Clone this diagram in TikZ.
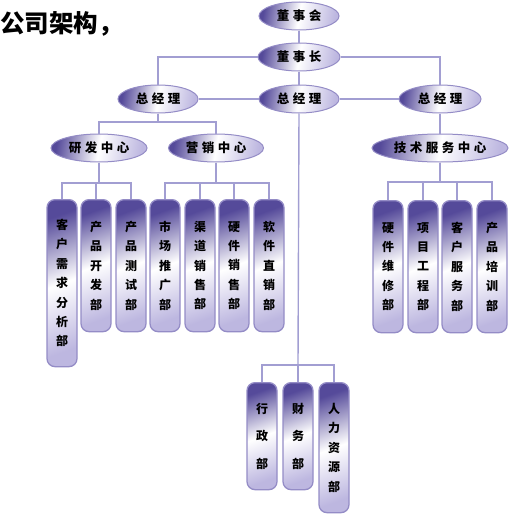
\documentclass[tikz,border=0pt]{standalone}
\usepackage{fontspec}
\usepackage{tikz}
\usepackage{xcolor}
\usetikzlibrary{shapes.geometric, positioning}
\newfontfamily\cjk{Noto Sans CJK SC}
\newfontfamily\cjkwide[LetterSpace=28]{Noto Sans CJK SC}
\definecolor{linelav}{HTML}{A29ED2}
\definecolor{edgelav}{HTML}{948CC6}
\definecolor{shadedark}{HTML}{554A9A}
\definecolor{shadelight}{HTML}{BDB7E0}
\tikzset{
  link/.style={draw=linelav, line width=1.4pt},
  boss/.style={ellipse, draw=edgelav, line width=1pt, inner sep=0pt,
               minimum height=28pt, left color=shadedark, right color=shadelight,
               middle color=white, shading angle=80,
               font=\cjkwide\bfseries\fontsize{12.5}{14}\selectfont},
  dept/.style={draw=edgelav, line width=1.3pt, rounded corners=8pt, anchor=north,
               minimum width=30pt, minimum height=132pt, inner sep=0pt,
               top color=shadedark, bottom color=shadelight, middle color=white,
               shading angle=20, align=center,
               font=\cjk\bfseries\fontsize{12}{19.4}\selectfont},
}

\begin{document}
\begin{tikzpicture}[x=1pt, y=-1pt]
  \useasboundingbox (0,0) rectangle (510,514);
  \node[anchor=west, font=\cjk\bfseries\fontsize{24.5}{27}\selectfont, inner sep=0pt]
       (title) at (0,24) {公司架构，};

  % top levels
  \node[boss, minimum width=80pt] (dsh) at (299,16) {董事会};
  \node[boss, minimum width=82pt] (dsz) at (299,57) {董事长};
  \node[boss, minimum width=80pt] (gmL) at (158,99) {总经理};
  \node[boss, minimum width=80pt] (gmM) at (299,99) {总经理};
  \node[boss, minimum width=82pt] (gmR) at (440,99) {总经理};

  % centres
  \node[boss, minimum width=96pt] (yf) at (99,148) {研发中心};
  \node[boss, minimum width=95pt] (yx) at (216,148) {营销中心};
  \node[boss, minimum width=136pt] (js) at (440,148) {技术服务中心};

  \coordinate (jL) at (158,122);
  \coordinate (yfbar) at (99,183);
  \coordinate (yxbar) at (216,183);
  \coordinate (jsbar) at (440,182);
  \coordinate (mbar) at (298,365);

  \draw[link] (dsh) -- (dsz);
  \draw[link] (dsz.west) -| (gmL.north);
  \draw[link] (dsz.east) -| (gmR.north);
  \draw[link] (dsz) -- (gmM);
  \draw[link] (gmL) -- (gmM);
  \draw[link] (gmM) -- (gmR);
  \draw[link] (gmL.south) -- (jL);
  \draw[link] (yf.north) |- (jL) -| (yx.north);
  \draw[link] (gmR.south) -- (js.north);
  \draw[link] (yf.south) -- (yfbar);
  \draw[link] (yx.south) -- (yxbar);
  \draw[link] (js.south) -- (jsbar);
  \draw[link] (gmM.south) -- (mbar);

  % departments
  \foreach \i/\x/\h/\t in {1/62/167/{客\\户\\需\\求\\分\\析\\部},
                           2/96/132/{产\\品\\开\\发\\部},
                           3/131/132/{产\\品\\测\\试\\部}}{
    \node[dept, minimum height=\h pt] (yf\i) at (\x,199) {\t};
    \draw[link] (yf\i.north) |- (yfbar);
  }
  \foreach \i/\x/\t in {1/165/{市\\场\\推\\广\\部},2/200/{渠\\道\\销\\售\\部},
                        3/234/{硬\\件\\销\\售\\部},4/269/{软\\件\\直\\销\\部}}{
    \node[dept] (yx\i) at (\x,199) {\t};
    \draw[link] (yx\i.north) |- (yxbar);
  }
  \foreach \i/\x/\t in {1/388/{硬\\件\\维\\修\\部},2/423/{项\\目\\工\\程\\部},
                        3/457/{客\\户\\服\\务\\部},4/492/{产\\品\\培\\训\\部}}{
    \node[dept] (js\i) at (\x,200) {\t};
    \draw[link] (js\i.north) |- (jsbar);
  }
  \foreach \i/\x/\t in {1/262/{行\\[8pt]政\\[8pt]部},2/298/{财\\[8pt]务\\[8pt]部}}{
    \node[dept, minimum height=107pt] (m\i) at (\x,382) {\t};
    \draw[link] (m\i.north) |- (mbar);
  }
  \node[dept, minimum height=130pt] (m3) at (334,382) {人\\力\\资\\源\\部};
  \draw[link] (m3.north) |- (mbar);
\end{tikzpicture}
\end{document}
